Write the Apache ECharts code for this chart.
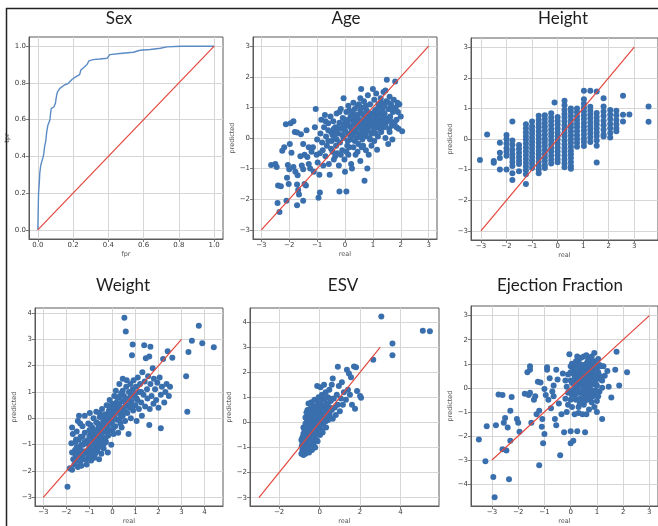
<!DOCTYPE html>
<html>
<head>
<meta charset="utf-8">
<script src="https://cdn.jsdelivr.net/npm/echarts@6/dist/echarts.min.js"></script>
<style>
  html, body { margin: 0; padding: 0; background: #fff; }
  #chart { width: 658px; height: 526px; }
</style>
</head>
<body>
<div id="chart"></div>
<script>
// ROC curve for the sex classifier
const rocFpr = [0, 0.004, 0.008, 0.011, 0.015, 0.019, 0.027, 0.031, 0.034, 0.038, 0.042, 0.046, 0.05, 0.057, 0.063, 0.069, 0.073, 0.076, 0.084, 0.092, 0.1, 0.103, 0.107, 0.111, 0.115, 0.125, 0.134, 0.153, 0.17, 0.179, 0.195, 0.21, 0.218, 0.237, 0.244, 0.256, 0.267, 0.279, 0.29, 0.313, 0.351, 0.393, 0.408, 0.466, 0.542, 0.58, 0.637, 0.695, 0.733, 0.81, 1.0];
const rocTpr = [0, 0.197, 0.25, 0.307, 0.34, 0.36, 0.37, 0.4, 0.416, 0.45, 0.47, 0.49, 0.53, 0.57, 0.58, 0.6, 0.64, 0.66, 0.665, 0.67, 0.69, 0.71, 0.735, 0.75, 0.76, 0.77, 0.775, 0.79, 0.795, 0.8, 0.82, 0.83, 0.836, 0.845, 0.87, 0.88, 0.89, 0.9, 0.92, 0.927, 0.93, 0.934, 0.954, 0.96, 0.967, 0.978, 0.982, 0.989, 0.996, 1.0, 1.0];

// Age: [real, predicted]
const agePoints = [
  [-2.65,-0.88],[-2.5,-0.85],[-2.45,-0.95],[-2.4,-1.55],[-2.3,-1.58],[-2.42,-2.12],[-2.35,-2.42],[-2.25,-0.42],[-2.12,0.45],[-2.18,-0.3],
  [-2.1,-2.05],[-2.05,-0.88],[-2.0,-1.02],[-2.08,-1.3],[-2.02,-1.5],[-1.95,0.48],[-1.85,0.55],[-1.92,-0.48],[-1.98,-0.2],[-1.8,0.2],
  [-1.72,0.18],[-1.85,-0.95],[-1.78,-1.1],[-1.7,-1.22],[-1.72,-1.52],[-1.68,-1.7],[-1.65,-1.85],[-1.72,-2.2],[-1.5,-2.05],[-1.6,-0.6],
  [-1.55,-0.9],[-1.5,-1.02],[-1.45,-1.5],[-1.4,-1.55],[-1.58,0.12],[-1.5,-0.2],[-1.45,-0.55],[-1.38,0.25],[-1.35,-0.62],[-1.3,-0.85],
  [-1.25,-1.0],[-1.2,-0.45],[-1.15,-0.3],[-1.12,-1.1],[-1.05,0.95],[-1.08,0.35],[-1.02,-0.55],[-1.0,-0.05],[-0.98,-0.8],[-0.95,-1.95],
  [-0.9,-1.78],[-0.92,-1.2],[-0.88,0.15],[-0.85,0.6],[-0.82,-0.15],[-0.8,-0.4],[-0.78,-0.9],[-0.75,0.35],[-0.72,0.75],[-0.7,-0.6],
  [-0.68,0.05],[-0.65,-0.25],[-0.6,0.48],[-0.58,-0.85],[-0.55,-1.2],[-0.52,0.7],[-0.5,0.2],[-0.48,-0.1],[-0.45,-0.45],[-0.42,0.55],
  [-0.4,-0.7],[-0.38,0.05],[-0.35,0.35],[-0.32,-0.25],[-0.3,0.8],[-0.28,-0.5],[-0.25,0.15],[-0.22,-0.9],[-0.2,-1.75],[-0.2,0.5],
  [-0.18,-0.15],[-0.15,0.95],[-0.12,0.3],[-0.1,-0.4],[-0.08,0.65],[-0.05,1.3],[-0.05,0.0],[-0.02,-0.7],[0.0,-1.1],[0.05,-1.75],
  [0.02,0.4],[0.05,0.85],[0.08,-0.25],[0.1,0.15],[0.12,1.05],[0.12,-0.55],[0.15,0.6],[0.18,-0.05],[0.2,0.35],[0.22,-0.85],
  [0.25,-1.0],[0.25,0.85],[0.28,0.1],[0.3,1.15],[0.3,-0.3],[0.32,0.55],[0.35,0.25],[0.38,-0.55],[0.4,0.75],[0.42,0.0],
  [0.45,1.05],[0.45,0.4],[0.48,-0.2],[0.5,0.6],[0.52,0.15],[0.55,-0.75],[0.55,0.9],[0.58,1.6],[0.6,0.3],[0.62,-0.05],
  [0.65,0.75],[0.68,1.2],[0.7,-1.4],[0.7,0.45],[0.72,0.05],[0.75,-0.4],[0.78,0.9],[0.8,-1.0],[0.8,0.25],[0.82,1.4],
  [0.85,-0.55],[0.85,0.6],[0.88,0.0],[0.9,1.1],[0.92,0.4],[0.95,-0.25],[0.95,0.8],[1.0,1.6],[1.0,0.2],[1.02,0.55],
  [1.05,1.25],[1.05,-0.1],[1.08,0.9],[1.1,0.35],[1.12,1.45],[1.15,-0.38],[1.15,0.65],[1.18,0.05],[1.2,1.1],[1.22,0.45],
  [1.25,0.8],[1.28,1.3],[1.3,0.2],[1.32,0.6],[1.35,1.0],[1.38,1.5],[1.4,0.35],[1.42,0.8],[1.45,1.55],[1.45,0.0],
  [1.48,1.2],[1.5,1.9],[1.5,0.55],[1.55,0.95],[1.58,0.3],[1.6,1.35],[1.62,0.7],[1.65,1.1],[1.68,0.4],[1.7,-0.05],
  [1.72,0.85],[1.75,1.25],[1.78,0.5],[1.8,1.85],[1.82,1.0],[1.85,0.6],[1.88,1.15],[1.9,0.85],[1.95,1.1],[2.0,0.7],
  [2.05,0.22],[1.92,0.3],[1.55,-0.2],
  [0.3,0.45],[0.4,0.2],[0.5,0.35],[0.6,0.55],[0.7,0.7],[0.8,0.5],[0.9,0.65],[1.0,0.4],[1.1,0.75],[1.2,0.6],
  [1.3,0.45],[0.35,0.65],[0.55,0.05],[0.65,0.2],[0.75,0.15],[0.85,0.35],[0.95,0.15],[1.05,0.65],[1.15,0.95],[1.25,0.3],
  [0.2,0.7],[0.1,0.45],[-0.1,0.1],[0.0,0.25],[-0.3,0.2],[-0.6,-0.1],[-0.5,-0.35],[-0.4,0.3],[0.15,-0.3],[0.45,-0.45],
  [0.65,-0.25],[0.9,-0.05],[1.35,0.7],[1.45,0.45],[1.6,0.95],[0.55,1.3],[0.75,1.05],[0.35,0.95],[-0.2,0.85],[-0.7,0.55],
  [-0.45,0.1],[-0.35,-0.6],[-0.25,0.35],[-0.15,-0.55],[-0.05,0.45],[0.05,-0.45],[0.15,0.9],[0.25,0.25],[0.35,-0.1],[0.45,0.75],
  [0.55,0.45],[0.65,1.0],[0.75,0.3],[0.85,0.8],[0.95,0.6],[1.05,0.3],[1.15,0.5],[1.25,1.05],[1.35,0.85],[1.45,0.65],
  [1.55,1.15],[1.65,0.55],[1.75,0.95],[0.2,0.05],[0.4,0.5],[0.6,0.8],[0.8,0.65],[1.0,0.75],[1.2,0.85],[1.4,1.05],
  [0.3,0.7],[0.5,1.1],[0.7,0.55],[0.9,0.45],[1.1,0.15],[1.3,1.15],[0.0,0.6],[-0.3,-0.05],[0.1,-0.1],[0.6,-0.3],
  [1.6,0.2],[1.85,0.35],[-0.6,0.25],[-0.9,-0.5],[-1.3,-0.3]
];

// Height: real values come in discrete steps; predictions listed per step
const heightSteps = [-3.04, -2.76, -2.5, -2.26, -2.0, -1.77, -1.51, -1.24, -1.0, -0.74, -0.5, -0.25, -0.12, 0.0, 0.27, 0.52, 0.76, 1.03, 1.28, 1.53, 1.8, 2.06, 2.3, 2.56, 2.81, 3.56];
const heightPredicted = [
  [-0.69],
  [0.15],
  [-0.72,-0.78],
  [-0.12,-0.45,-0.62,-1.0],
  [0.13,0.0,-0.15,-0.3,-0.42,-0.55,-1.0],
  [0.57,-0.05,-0.2,-0.35,-0.5,-0.62,-0.75,-0.88,-1.12,-1.34],
  [-0.2,-0.32,-0.45,-0.58,-0.7,-0.82,-1.05],
  [0.48,0.35,0.22,0.1,-0.02,-0.15,-0.28,-0.4,-0.52,-0.65,-0.78,-0.9,-1.02,-1.15,-1.47],
  [0.57,0.42,0.3,0.18,0.05,-0.08,-0.2,-0.32,-0.45,-0.58,-0.7,-0.82,-0.95],
  [0.76,0.62,0.5,0.38,0.25,0.12,0.0,-0.12,-0.25,-0.38,-0.5,-0.62,-0.75,-0.88,-1.0,-1.12],
  [0.78,0.65,0.52,0.4,0.28,0.15,0.02,-0.1,-0.22,-0.35,-0.48,-0.6,-0.72,-0.85,-0.95],
  [0.84,0.7,0.58,0.45,0.32,0.2,0.08,-0.05,-0.18,-0.3,-0.42,-0.55,-0.68,-0.8],
  [1.19],
  [0.72,0.6,0.48,0.35,0.22,0.1,-0.02,-0.15,-0.28,-0.4,-0.52,-0.65,-0.76],
  [1.25,1.1,0.95,0.82,0.7,0.58,0.45,0.32,0.2,0.08,-0.05,-0.18,-0.3,-0.42,-0.55,-0.68,-0.8,-0.92],
  [1.0,0.88,0.75,0.62,0.5,0.38,0.25,0.12,0.0,-0.12,-0.25,-0.38,-0.5,-0.62,-0.75,-0.88,-0.97],
  [1.0,0.87,0.74,0.62,0.5,0.38,0.25,0.12,0.0,-0.12,-0.25],
  [1.58,1.3,1.15,1.02,0.9,0.78,0.65,0.52,0.4,0.28,0.15,0.02,-0.1,-0.23],
  [1.58,1.05,0.92,0.8,0.68,0.55,0.42,0.3,0.18,0.05,-0.1],
  [1.55,0.85,0.72,0.6,0.48,0.35,0.22,0.1,-0.05,-0.22,-0.77],
  [1.33,1.06,0.9,0.75,0.6,0.45,0.3,0.15,0.08],
  [0.95,0.8,0.65,0.5,0.35,0.2,0.05],
  [0.92,0.78,0.62,0.48,0.35,0.25],
  [1.41,0.79,0.57],
  [0.8],
  [1.06,0.56]
];

// Weight: [real, predicted]
const weightPoints = [
  [-1.95,-2.6],[-1.85,-1.9],[-1.75,-1.95],[-1.7,-1.55],[-1.75,-1.3],[-1.78,-0.95],[-1.72,-0.6],[-1.75,-0.35],[-1.6,-1.6],[-1.62,-1.2],
  [-1.58,-0.8],[-1.55,-1.45],[-1.5,-1.85],[-1.5,-0.1],[-1.45,0.1],[-1.55,-0.5],[-1.45,-1.1],[-1.4,-1.7],[-1.38,-0.7],[-1.35,-1.4],
  [-1.3,-0.3],[-1.28,-1.0],[-1.25,-1.55],[-1.2,0.1],[-1.2,-0.55],[-1.15,-1.25],[-1.12,-1.75],[-1.1,-0.85],[-1.05,-0.2],[-1.02,-1.45],
  [-1.0,-1.1],[-0.98,0.2],[-0.95,-0.6],[-0.92,-1.6],[-0.9,-0.95],[-0.88,-0.35],[-0.85,-1.3],[-0.82,0.0],[-0.8,-0.75],[-0.78,-1.5],
  [-0.75,-1.1],[-0.72,-0.45],[-0.7,0.25],[-0.68,-0.9],[-0.65,-1.25],[-0.62,-0.2],[-0.6,-0.6],[-0.58,-1.55],[-0.55,0.05],[-0.52,-1.0],
  [-0.5,-0.4],[-0.48,-1.35],[-0.45,0.35],[-0.42,-0.75],[-0.4,-0.1],[-0.38,-1.15],[-0.35,-0.5],[-0.3,0.15],[-0.28,-0.9],[-0.25,0.5],
  [-0.22,-0.3],[-0.2,-1.3],[-0.18,-0.65],[-0.15,0.0],[-0.12,0.7],[-0.1,-0.45],[-0.08,0.3],[-0.05,-1.0],[-0.02,-0.15],[0.0,0.55],
  [0.02,0.1],[0.05,-0.6],[0.08,0.85],[0.1,0.3],[0.12,-0.3],[0.15,1.05],[0.18,0.6],[0.2,-0.05],[0.22,0.25],[0.25,-0.55],
  [0.28,0.8],[0.3,1.3],[0.32,0.45],[0.35,0.05],[0.38,0.95],[0.4,-0.35],[0.42,0.65],[0.45,1.5],[0.48,0.25],[0.5,0.85],
  [0.52,3.82],[0.58,3.3],[0.55,-0.1],[0.58,0.5],[0.6,1.2],[0.62,1.45],[0.65,0.2],[0.68,0.75],[0.7,-0.6],[0.72,1.0],
  [0.75,0.4],[0.78,1.3],[0.8,0.0],[0.82,0.65],[0.85,2.4],[0.88,2.8],[0.88,1.1],[0.9,0.3],[0.92,1.45],[0.95,0.85],
  [1.0,0.5],[1.02,1.2],[1.05,-0.1],[1.08,0.7],[1.1,1.55],[1.15,0.35],[1.18,1.0],[1.2,1.3],[1.25,0.6],[1.28,0.1],
  [1.3,1.75],[1.35,0.9],[1.38,2.78],[1.4,1.4],[1.42,0.45],[1.45,2.28],[1.5,1.1],[1.52,0.75],[1.55,1.6],[1.6,2.35],
  [1.6,-0.25],[1.62,0.35],[1.65,2.72],[1.65,1.3],[1.7,0.85],[1.75,1.9],[1.78,0.55],[1.8,1.5],[1.85,1.1],[1.9,0.7],
  [1.95,1.35],[2.0,0.4],[2.05,1.55],[2.1,-0.38],[2.1,0.9],[2.15,1.2],[2.2,2.25],[2.25,0.6],[2.3,1.0],[2.35,1.3],
  [2.4,2.55],[2.45,0.85],[2.5,1.2],[2.6,2.3],[3.2,1.6],[3.25,0.25],[3.3,2.52],[3.45,2.95],[3.75,3.52],[3.9,2.85],
  [4.4,2.7],
  [-1.3,-1.25],[-1.1,-1.3],[-0.9,-1.2],[-0.7,-1.0],[-0.5,-0.8],[-0.3,-0.5],[-0.1,-0.2],[0.1,0.0],[0.3,0.2],[0.5,0.4],
  [-1.2,-0.9],[-1.0,-0.7],[-0.8,-0.5],[-0.6,-0.3],[-0.4,-0.25],[-0.2,0.1],[0.0,0.3],[0.2,0.45],[-1.4,-1.2],[-1.5,-1.3],
  [-1.3,-0.7],[-0.85,-0.85],[-0.65,-0.65],[-0.45,-0.55],[-0.25,-0.05],[0.15,0.2],[0.4,0.35],[0.6,0.7],[0.8,0.9],[1.0,0.95],
  [-1.6,-0.9],[-1.35,-1.8],[-1.1,-1.55],[-0.75,-1.35],[-0.35,-0.95],[0.05,-0.35],[0.35,-0.2],[-0.55,0.2],[-0.95,-0.25],[-1.4,-0.2],
  [-1.65,-1.75],[-1.55,-1.1],[-1.45,-1.5],[-1.35,-1.0],[-1.25,-1.35],[-1.15,-0.95],[-1.05,-1.25],[-0.95,-0.95],[-0.85,-0.6],[-0.75,-0.8],
  [-0.65,-0.45],[-0.55,-0.8],[-0.45,-0.3],[-0.35,-0.15],[-0.25,-0.45],[-0.15,0.3],[-0.05,0.1],[0.05,0.45],[0.25,0.55],[0.45,0.1],
  [0.65,0.5],[0.85,0.5],[1.05,0.75],[1.25,1.0],[-1.2,-1.55],[-0.9,-1.45],[-0.6,-1.1],[-0.3,-0.75],[0.0,-0.45],[0.3,-0.05],
  [0.55,0.25],[0.75,0.7],[-1.0,-0.45],[-0.7,-0.15],[-0.4,0.1],[-0.1,0.45],[0.2,0.8],[0.45,1.05],[-1.6,-1.4],[-1.45,-0.8]
];

// ESV: [real, predicted]
const esvPoints = [
  [-0.9,-1.25],[-0.88,-0.95],[-0.85,-0.6],[-0.8,-1.3],[-0.8,-0.2],[-0.78,-0.85],[-0.75,-1.1],[-0.72,-0.45],[-0.7,0.2],[-0.7,-1.25],
  [-0.68,-0.7],[-0.65,0.0],[-0.62,-1.0],[-0.6,-0.35],[-0.6,0.5],[-0.58,-0.85],[-0.55,0.75],[-0.55,-0.15],[-0.52,-1.2],[-0.5,-0.55],
  [-0.48,0.3],[-0.45,-0.9],[-0.42,0.05],[-0.4,0.8],[-0.4,-0.4],[-0.38,-1.1],[-0.35,0.5],[-0.32,-0.7],[-0.3,-0.1],[-0.28,0.2],
  [-0.25,0.9],[-0.25,-0.5],[-0.22,-1.0],[-0.2,0.0],[-0.18,0.55],[-0.15,-0.3],[-0.12,1.45],[-0.12,0.3],[-0.1,-0.75],[-0.08,0.8],
  [-0.05,1.0],[-0.05,-0.15],[0.0,0.45],[0.02,-0.5],[0.05,1.4],[0.05,0.15],[0.08,0.7],[0.1,-0.3],[0.12,1.1],[0.15,0.35],
  [0.18,-0.05],[0.2,0.9],[0.22,1.5],[0.25,0.55],[0.28,0.2],[0.3,1.2],[0.32,-0.2],[0.35,0.75],[0.38,0.4],[0.4,1.0],
  [0.42,0.1],[0.45,0.6],[0.48,1.3],[0.5,0.3],[0.55,0.85],[0.6,1.5],[0.6,0.5],[0.65,1.75],[0.65,0.15],[0.7,0.95],
  [0.75,0.6],[0.8,0.3],[0.85,1.1],[0.9,2.22],[0.9,0.7],[0.95,1.45],[1.0,0.45],[1.05,0.95],[1.1,1.6],[1.15,0.7],
  [1.2,1.2],[1.3,0.9],[1.35,2.1],[1.4,1.3],[1.45,1.95],[1.5,1.1],[1.55,1.8],[1.6,0.7],[1.7,2.23],[1.75,0.55],
  [1.8,2.2],[1.85,1.25],[2.0,1.05],[2.05,0.98],[2.65,2.5],[3.05,4.22],[3.6,3.15],[3.6,2.68],[5.1,3.65],[5.45,3.63],
  [-0.85,-1.1],[-0.75,-0.6],[-0.65,-0.5],[-0.55,-0.6],[-0.45,-0.2],[-0.35,-0.3],[-0.25,0.1],[-0.15,0.15],[-0.05,0.3],[0.05,0.4],
  [0.15,0.6],[-0.7,-0.95],[-0.6,-0.75],[-0.5,-0.35],[-0.4,-0.6],[-0.3,-0.85],[-0.2,-0.5],[-0.1,-0.05],[0.0,0.05],[0.1,0.25],
  [0.2,0.2],[-0.65,-0.2],[-0.45,0.55],[-0.3,0.4],[-0.15,0.6],[-0.05,0.65],[0.25,0.95],[-0.8,-0.45],[-0.9,-0.7],[-0.55,0.1],
  [-0.35,0.15],[-0.2,-0.2],[0.0,-0.3],[0.1,0.5],[0.3,0.5],[0.4,0.7],[-0.5,-1.0],[-0.6,-1.15],[-0.4,-0.8],[0.15,-0.4],
  [-0.65,0.4],[-0.7,-0.05],[0.5,0.95],[0.45,0.2],[0.35,0.25],
  [-0.85,-0.85],[-0.75,-0.3],[-0.65,-0.9],[-0.55,-0.35],[-0.45,-0.7],[-0.35,-0.05],[-0.25,-0.3],[-0.15,-0.7],[-0.05,-0.4],[0.05,-0.1],
  [-0.8,-1.05],[-0.7,-0.7],[-0.6,-0.05],[-0.5,0.05],[-0.4,0.35],[-0.3,0.65],[-0.2,0.3],[-0.1,0.45],[0.0,0.85],[0.1,1.05],
  [0.2,0.45],[0.3,0.05],[0.4,0.45],[0.5,0.6],[-0.75,-1.2],[-0.55,-1.05],[-0.35,-0.55],[-0.15,-0.1],[0.05,0.1],[0.25,0.35]
];

// Ejection fraction: [real, predicted]
const efPoints = [
  [-3.5,-2.15],[-3.2,-1.6],[-3.25,-3.05],[-2.95,-3.7],[-2.9,-4.55],[-2.35,-3.8],[-2.45,-2.6],[-2.6,-2.55],[-2.3,-2.2],[-2.85,-1.55],
  [-2.5,-1.25],[-2.55,-1.45],[-2.4,-1.65],[-2.75,-0.28],[-2.6,-0.3],[-2.25,-0.38],[-2.3,-0.95],[-2.05,-1.3],[-2.0,-1.45],[-1.95,-1.82],
  [-1.75,-0.25],[-1.65,0.65],[-1.55,0.75],[-1.55,0.9],[-1.6,-0.3],[-1.5,-1.45],[-1.55,-0.2],[-1.4,-0.5],[-1.3,-1.1],[-1.25,0.25],
  [-1.2,-0.95],[-1.15,0.22],[-1.2,-3.22],[-1.05,-2.3],[-1.0,-1.92],[-1.1,-1.62],[-1.08,-1.3],[-0.95,-0.3],[-0.9,0.85],[-0.9,0.75],
  [-0.85,-0.5],[-0.8,0.4],[-0.75,-0.85],[-0.7,-0.15],[-0.65,0.1],[-0.6,-1.3],[-0.55,-1.55],[-0.5,0.35],[-0.45,-0.65],[-0.4,-2.8],
  [-0.35,-1.1],[-0.3,0.6],[-0.25,-1.85],[-0.2,-0.45],[0.0,-1.8],[0.0,-2.3],[0.1,-2.2],[0.25,-1.8],[0.55,-1.85],[-0.15,-1.0],
  [0.15,-1.1],[0.45,-1.1],[1.75,1.5],[1.7,0.75],[2.15,0.65],[1.85,0.1],[1.55,-0.4],[1.2,-1.3],[1.45,0.05],[1.3,0.5],
  [1.25,0.9],[1.4,0.7],[-0.55,0.75],[-0.2,0.3],[-0.1,-0.2],[-1.35,-0.35],[-1.0,-0.05],[-0.65,-0.35],[-0.05,1.4],
  [0.0,0.3],[0.1,0.6],[0.1,-0.1],[0.2,0.9],[0.2,0.2],[0.2,-0.5],[0.3,1.1],[0.3,0.5],[0.3,-0.2],[0.3,-0.8],
  [0.4,0.8],[0.4,0.1],[0.4,-0.5],[0.5,1.3],[0.5,0.6],[0.5,0.3],[0.5,-0.1],[0.5,-0.7],[0.6,1.0],[0.6,0.4],
  [0.6,0.0],[0.6,-0.4],[0.7,1.2],[0.7,0.7],[0.7,0.2],[0.7,-0.3],[0.7,-0.9],[0.8,0.9],[0.8,0.5],[0.8,-0.1],
  [0.8,-0.6],[0.9,1.45],[0.9,1.1],[0.9,0.3],[0.9,-0.3],[1.0,0.8],[1.0,0.1],[1.0,-0.55],[1.05,1.2],[1.1,0.5],
  [1.1,-0.15],[1.15,0.9],[0.0,0.9],[0.0,-0.5],[-0.1,0.55],[0.05,1.0],[0.15,0.35],[0.25,0.7],[0.35,0.25],[0.45,0.95],
  [0.55,0.75],[0.65,0.55],[0.75,0.95],[0.85,0.7],[0.95,0.5],[0.25,0.0],[0.45,0.45],[0.55,0.15],[0.65,-0.15],[0.75,0.45],
  [0.85,0.15],[0.95,0.95],[0.35,0.6],[0.15,0.8],[0.05,-0.8],[0.6,-1.1],[0.3,-1.05],[0.9,-0.8],[1.0,-1.0],[-0.1,-0.7],
  [0.4,1.25],[0.6,1.35],[0.8,1.3],[0.2,1.1],[1.2,0.3],[1.2,0.0],[0.15,-0.3],[0.35,-0.45],[0.55,-0.35],[0.75,-0.5],
  [0.4,0.55],[0.5,0.05],[0.6,0.65],[0.7,0.35],[0.8,0.25],[0.45,-0.25],[0.25,0.45],[0.65,0.85],[0.85,0.45],[0.35,0.95],
  [0.05,0.2],[0.15,0.5],[0.25,0.85],[0.35,0.1],[0.45,0.6],[0.55,0.95],[0.65,0.3],[0.75,0.75],[0.85,1.05],[0.95,0.2],
  [1.05,0.65],[1.15,0.35],[0.1,0.75],[0.2,-0.25],[0.3,0.3],[0.4,-0.15],[0.5,0.85],[0.6,0.2],[0.7,1.0],[0.8,0.65],
  [0.9,0.85],[1.0,0.4],[1.1,0.95],[0.05,-0.3],[0.35,-0.65],[0.55,-0.55],[0.75,-0.2],[0.95,-0.1],[0.25,1.3],[0.65,1.1],
  [0.85,-0.35],[1.05,-0.35],[0.45,0.25],[0.55,0.45],[0.65,0.05],[0.75,0.1],[0.15,0.1],[-0.15,0.05],[-0.05,-0.15],[0.0,0.65]
];

// Reference lines: chance line for the ROC plot, identity line for the regressions
const chanceLine = [[0, 0], [1, 1]];
const identityLine = [[-3, -3], [3, 3]];

// Tick values for each panel
const rocTicks = [0, 0.2, 0.4, 0.6, 0.8, 1.0];
const ticksM3to3 = [-3, -2, -1, 0, 1, 2, 3];
const ticksM3to4 = [-3, -2, -1, 0, 1, 2, 3, 4];
const esvXTicks = [-2, 0, 2, 4];
const efYTicks = [-4, -3, -2, -1, 0, 1, 2, 3];

const heightPoints = [];
heightSteps.forEach((x, i) => heightPredicted[i].forEach(y => heightPoints.push([x, y])));

const BLUE = '#3a6fae';
const RED = '#e3463d';
const ROC_BLUE = '#5b8bc5';
const GRID_LINE = '#d6d6d6';
const SPINE = '#5a5a5a';

const fmtInt = v => (v < 0 ? '\u2212' : '') + Math.abs(Math.round(v));
const fmtDec = v => v.toFixed(1);

const panels = [
  { title: 'Sex', cx: 114, ty: 5, grid: { left: 29, top: 37, width: 194, height: 202 },
    x: [-0.05, 1.05], y: [-0.05, 1.05], xt: rocTicks, yt: rocTicks, fmt: fmtDec, xn: 'fpr', yn: 'tpr' },
  { title: 'Age', cx: 341, ty: 5, grid: { left: 253, top: 37, width: 184, height: 202 },
    x: [-3.3, 3.3], y: [-3.3, 3.3], xt: ticksM3to3, yt: ticksM3to3, fmt: fmtInt, xn: 'real', yn: 'predicted' },
  { title: 'Height', cx: 558, ty: 5, grid: { left: 471, top: 38, width: 187, height: 202 },
    x: [-3.39, 3.93], y: [-3.3, 3.3], xt: ticksM3to3, yt: ticksM3to3, fmt: fmtInt, xn: 'real', yn: 'predicted' },
  { title: 'Weight', cx: 118, ty: 272, grid: { left: 35, top: 308, width: 188, height: 199 },
    x: [-3.36, 4.8], y: [-3.33, 4.19], xt: ticksM3to4, yt: ticksM3to4, fmt: fmtInt, xn: 'real', yn: 'predicted' },
  { title: 'ESV', cx: 338, ty: 272, grid: { left: 250, top: 308, width: 189, height: 199 },
    x: [-3.44, 5.9], y: [-3.33, 4.56], xt: esvXTicks, yt: ticksM3to4, fmt: fmtInt, xn: 'real', yn: 'predicted' },
  { title: 'Ejection Fraction', cx: 555, ty: 272, grid: { left: 471, top: 306, width: 187, height: 201 },
    x: [-3.8, 3.33], y: [-4.91, 3.4], xt: ticksM3to3, yt: efYTicks, fmt: fmtInt, xn: 'real', yn: 'predicted' }
];

const tickFont = { fontFamily: 'DejaVu Sans', fontSize: 7, color: '#3a3a3a' };
const nameFont = { fontFamily: 'DejaVu Sans', fontSize: 6.5, color: '#555' };

function axis(i, range, ticks, fmt, name, isY) {
  return {
    type: 'value', gridIndex: i, min: range[0], max: range[1],
    name: name, nameLocation: 'middle', nameGap: isY ? 17 : 12, nameTextStyle: nameFont,
    axisLine: { show: true, onZero: false, lineStyle: { color: SPINE, width: 1 } },
    axisTick: { show: true, inside: false, length: 3, customValues: ticks, lineStyle: { color: SPINE, width: 0.8 } },
    axisLabel: Object.assign({ show: true, margin: 3, customValues: ticks, formatter: fmt }, tickFont),
    splitLine: { show: true, lineStyle: { color: GRID_LINE, width: 1 } }
  };
}

const option = {
  animation: false,
  backgroundColor: '#ffffff',
  title: panels.map(p => ({
    text: p.title, left: p.cx, top: p.ty, textAlign: 'center',
    textStyle: { fontFamily: 'Lato', fontSize: 17, fontWeight: 'normal', color: '#1e1e1e' }
  })),
  grid: panels.map(p => Object.assign({ show: true, borderColor: SPINE, borderWidth: 1, backgroundColor: 'transparent', containLabel: false }, p.grid)),
  xAxis: panels.map((p, i) => axis(i, p.x, p.xt, p.fmt, p.xn, false)),
  yAxis: panels.map((p, i) => axis(i, p.y, p.yt, p.fmt, p.yn, true)),
  series: [
    { type: 'line', xAxisIndex: 0, yAxisIndex: 0, data: rocFpr.map((f, i) => [f, rocTpr[i]]),
      showSymbol: false, lineStyle: { color: ROC_BLUE, width: 1.4 }, z: 3 },
    { type: 'line', xAxisIndex: 0, yAxisIndex: 0, data: chanceLine, showSymbol: false,
      lineStyle: { color: RED, width: 1.2 }, z: 4 },
    ...[agePoints, heightPoints, weightPoints, esvPoints, efPoints].flatMap((pts, k) => [
      { type: 'scatter', xAxisIndex: k + 1, yAxisIndex: k + 1, data: pts, symbolSize: 6,
        itemStyle: { color: BLUE, opacity: 1 }, z: 3 },
      { type: 'line', xAxisIndex: k + 1, yAxisIndex: k + 1, data: identityLine, showSymbol: false,
        lineStyle: { color: RED, width: 1.2 }, z: 4 }
    ])
  ],
  graphic: [
    { type: 'polyline', shape: { points: [[6.5, 526], [6.5, 8.5], [658, 8.5]] },
      style: { stroke: '#222', lineWidth: 1.5, fill: null }, z: 10 }
  ]
};

const chart = echarts.init(document.getElementById('chart'), null, { renderer: 'canvas' });
chart.setOption(option);
</script>
</body>
</html>
